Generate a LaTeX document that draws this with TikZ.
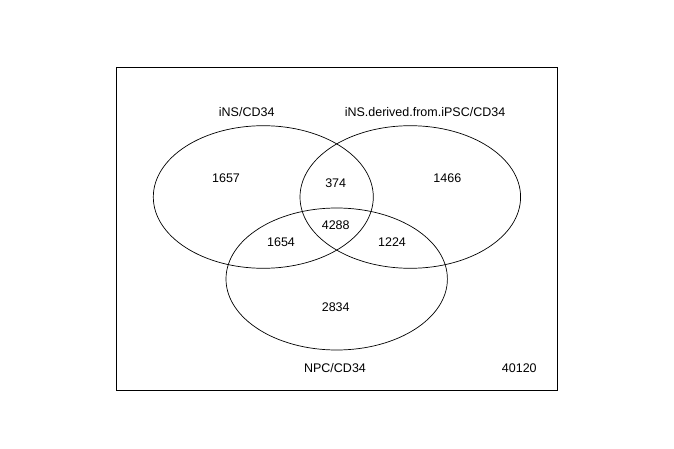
\documentclass[tikz,border=0pt]{standalone}
\usepackage{fontspec}
\setmainfont{Liberation Sans}
\begin{document}
\begin{tikzpicture}[x=1pt,y=-1pt,
  lbl/.style={font=\fontsize{12.5}{14}\selectfont, inner sep=0pt, anchor=center},
  venn/.style={draw=black, line width=0.7pt}]
\useasboundingbox (0,0) rectangle (674,449);
\draw[line width=0.7pt] (116.5,67.3) rectangle (557.3,390);
\draw[venn] (263.3,197) ellipse [x radius=110, y radius=71.3];
\draw[venn] (410.3,197) ellipse [x radius=110.3, y radius=71.3];
\draw[venn] (336.7,279) ellipse [x radius=110.7, y radius=71];
\node[lbl] (t1) at (246.7,111.7) {iNS/CD34};
\node[lbl] (t2) at (425,111.7) {iNS.derived.from.iPSC/CD34};
\node[lbl] (t3) at (335,368.3) {NPC/CD34};
\node[lbl] (n1657) at (226,178.3) {1657};
\node[lbl] (n374) at (335.7,183.3) {374};
\node[lbl] (n1466) at (447.3,178.3) {1466};
\node[lbl] (n4288) at (335.7,225) {4288};
\node[lbl] (n1654) at (281,242.3) {1654};
\node[lbl] (n1224) at (392,242.3) {1224};
\node[lbl] (n2834) at (335.7,306.7) {2834};
\node[lbl] (n40120) at (519.3,368.3) {40120};
\end{tikzpicture}
\end{document}
